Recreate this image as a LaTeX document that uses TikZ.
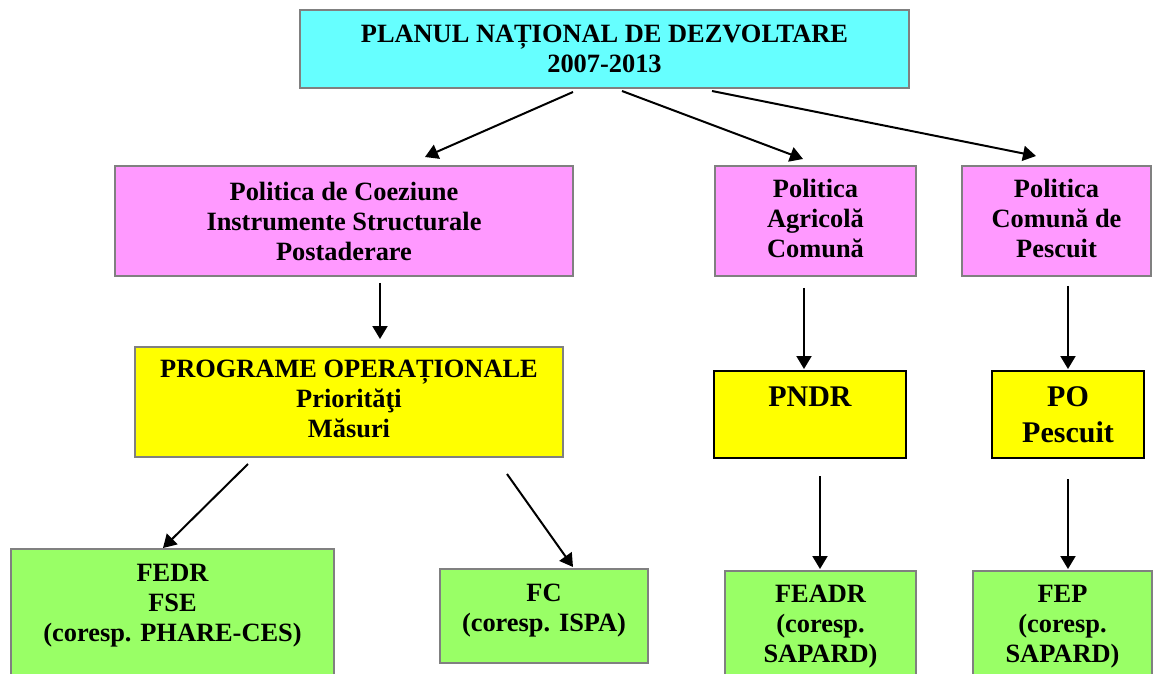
\documentclass[tikz,border=0pt]{standalone}
\usepackage{fontspec}
\setmainfont{Liberation Serif}
\usetikzlibrary{arrows.meta}
\definecolor{plancyan}{HTML}{66FFFF}
\definecolor{polpink}{HTML}{FF99FF}
\definecolor{progyellow}{HTML}{FFFF00}
\definecolor{fundgreen}{HTML}{99FF66}
\begin{document}
\begin{tikzpicture}[x=0.5pt, y=-0.5pt,
    box/.style={draw=gray, line width=1pt, fill=#1, align=center, inner sep=0pt,
      font=\bfseries\fontsize{13.2}{15}\selectfont},
    bigbox/.style={box=#1, draw=black, font=\bfseries\fontsize{15}{18}\selectfont},
    arr/.style={line width=1pt, -{Triangle[length=6.5pt,width=7.5pt]}}]
  \useasboundingbox (0,0) rectangle (1153,674);

  % plan
  \node[box=plancyan, minimum width=304.5pt, minimum height=39pt] (plan) at (604.5,49)
    {PLANUL NAȚIONAL DE DEZVOLTARE\\2007-2013};

  % politici
  \node[box=polpink, minimum width=229pt, minimum height=55pt] (coez) at (344,221)
    {Politica de Coeziune\\Instrumente Structurale\\Postaderare};
  \node[box=polpink, minimum width=100.5pt, minimum height=55pt, text depth=3pt] (agri) at (815.5,221)
    {Politica\\Agricolă\\Comună};
  \node[box=polpink, minimum width=94.5pt, minimum height=55pt, text depth=3pt] (pesc) at (1056.5,221)
    {Politica\\Comună de\\Pescuit};

  % programe
  \node[box=progyellow, minimum width=214pt, minimum height=55pt, text depth=3pt] (po) at (349,402)
    {PROGRAME OPERAȚIONALE\\Priorităţi\\Măsuri};
  \node[bigbox=progyellow, minimum width=96pt, minimum height=43.5pt, text depth=17.5pt] (pndr) at (810,414.5)
    {PNDR};
  \node[bigbox=progyellow, minimum width=76pt, minimum height=43.5pt] (popesc) at (1068,414.5)
    {PO\\Pescuit};

  % fonduri
  \node[box=fundgreen, minimum width=161.5pt, minimum height=75.5pt, text depth=21.5pt] (fedr) at (172.5,624.5)
    {FEDR\\FSE\\(coresp. PHARE-CES)};
  \node[box=fundgreen, minimum width=104pt, minimum height=47pt, text depth=8pt] (fc) at (544,616)
    {FC\\(coresp. ISPA)};
  \node[box=fundgreen, minimum width=95.5pt, minimum height=64.5pt, text depth=11.5pt] (feadr) at (820.5,635.5)
    {FEADR\\(coresp.\\SAPARD)};
  \node[box=fundgreen, minimum width=89.5pt, minimum height=64.5pt, text depth=11.5pt] (fep) at (1062.5,635.5)
    {FEP\\(coresp.\\SAPARD)};

  % sageti
  \draw[arr] ([xshift=-15.75pt,yshift=-1.5pt]plan.south) -- ([xshift=40.5pt,yshift=4pt]coez.north);
  \draw[arr] ([xshift=8.75pt,yshift=-1pt]plan.south) -- ([xshift=-6.25pt,yshift=3pt]agri.north);
  \draw[arr] ([xshift=53.75pt,yshift=-1pt]plan.south) -- ([xshift=-10.25pt,yshift=4.5pt]pesc.north);
  \draw[arr] ([xshift=18pt,yshift=-3pt]coez.south) -- ([xshift=15.5pt,yshift=3.5pt]po.north);
  \draw[arr] ([xshift=-5.75pt,yshift=-5.5pt]agri.south) -- ([xshift=-3pt,yshift=0.5pt]pndr.north);
  \draw[arr] ([xshift=5.75pt,yshift=-4.5pt]pesc.south) -- ([yshift=0.5pt]popesc.north);
  \draw[arr] ([xshift=-50.5pt,yshift=-3pt]po.south) -- ([xshift=-4.75pt]fedr.north);
  \draw[arr] ([xshift=79pt,yshift=-8pt]po.south) -- ([xshift=14.5pt,yshift=0.5pt]fc.north);
  \draw[arr] ([xshift=5pt,yshift=-8.5pt]pndr.south) -- ([xshift=-0.25pt,yshift=0.5pt]feadr.north);
  \draw[arr] ([yshift=-10pt]popesc.south) -- ([xshift=2.75pt,yshift=0.5pt]fep.north);
\end{tikzpicture}
\end{document}
